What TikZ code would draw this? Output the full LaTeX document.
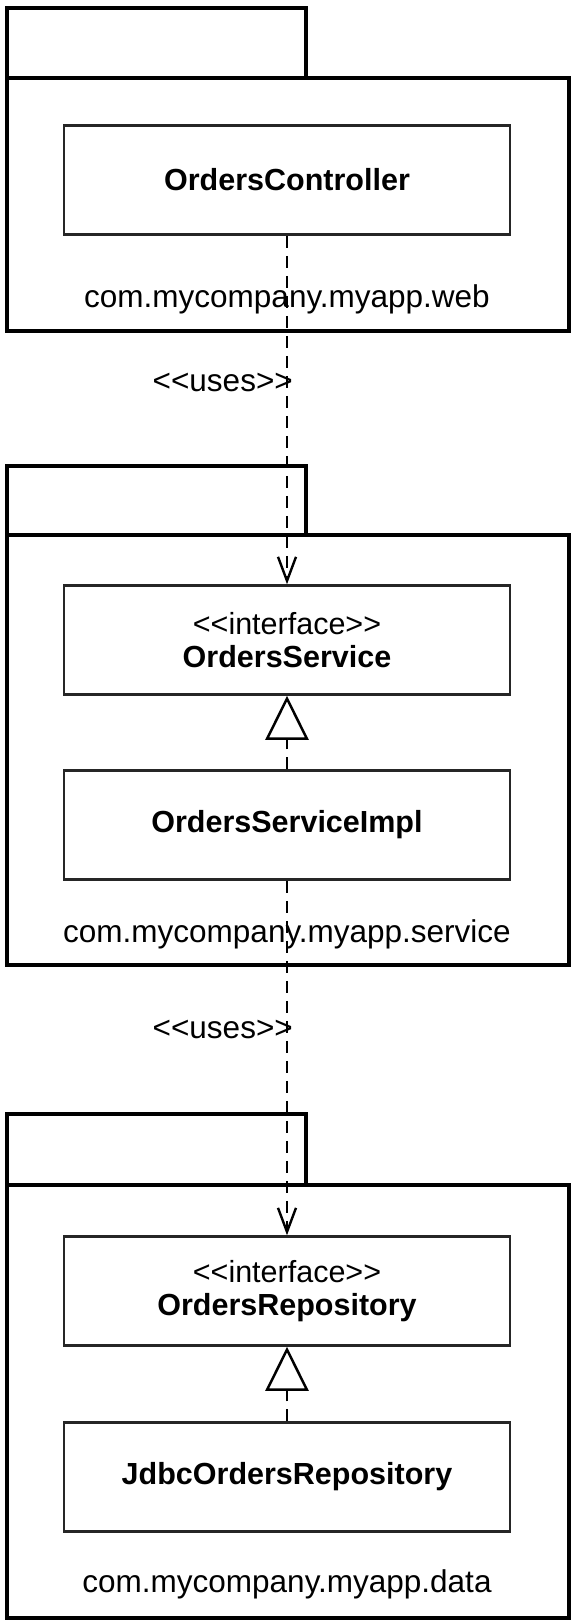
\documentclass[tikz,border=0pt]{standalone}
\usepackage{fontspec}
\setmainfont{Liberation Sans}
\usetikzlibrary{arrows.meta}
\begin{document}
\begin{tikzpicture}[x=1pt,y=-1pt,
    pkg/.style={line width=4pt},
    cls/.style={draw=black!85,line width=2.5pt,minimum width=446pt,minimum height=109pt,
        align=center,font=\bfseries\fontsize{30.5}{33}\selectfont},
    txt/.style={font=\fontsize{31.5}{33}\selectfont,inner sep=0pt},
    dep/.style={line width=2.2pt,dash pattern=on 12pt off 8pt,
        -{Straight Barb[length=24pt,width=18pt,line width=2.4pt]}},
    real/.style={line width=2.2pt,dash pattern=on 12pt off 8pt,
        -{Triangle[open,length=44pt,width=43pt,line width=2.5pt]}}]
    \useasboundingbox (0,0) rectangle (586,1624);
    \draw[pkg] (7,8) rectangle (306,78);
    \draw[pkg] (7,78) rectangle (569,331);
    \draw[pkg] (7,466) rectangle (306,535);
    \draw[pkg] (7,535) rectangle (569,965);
    \draw[pkg] (7,1114) rectangle (306,1185);
    \draw[pkg] (7,1185) rectangle (569,1618);
    \node[cls] (ctrl) at (287,180) {OrdersController};
    \node[txt] (webpkg) at (287,299) {com.mycompany.myapp.web};
    \node[cls] (srv) at (287,640) {{\mdseries <{}<interface>{}>}\\OrdersService};
    \node[cls] (srvimpl) at (287,825) {OrdersServiceImpl};
    \node[txt] (srvpkg) at (287,934) {com.mycompany.myapp.service};
    \node[cls] (repo) at (287,1291) {{\mdseries <{}<interface>{}>}\\OrdersRepository};
    \node[cls] (jdbcrepo) at (287,1477) {JdbcOrdersRepository};
    \node[txt] (datapkg) at (287,1584) {com.mycompany.myapp.data};
    \node[txt,anchor=east] (uses1) at (293,382) {<{}<uses>{}>};
    \node[txt,anchor=east] (uses2) at (293,1029) {<{}<uses>{}>};
    \draw[dep] (ctrl.south) -- (srv.north);
    \draw[dep] (srvimpl.south) -- (repo.north);
    \draw[real] (srvimpl.north) -- (srv.south);
    \draw[real] (jdbcrepo.north) -- (repo.south);
\end{tikzpicture}
\end{document}
